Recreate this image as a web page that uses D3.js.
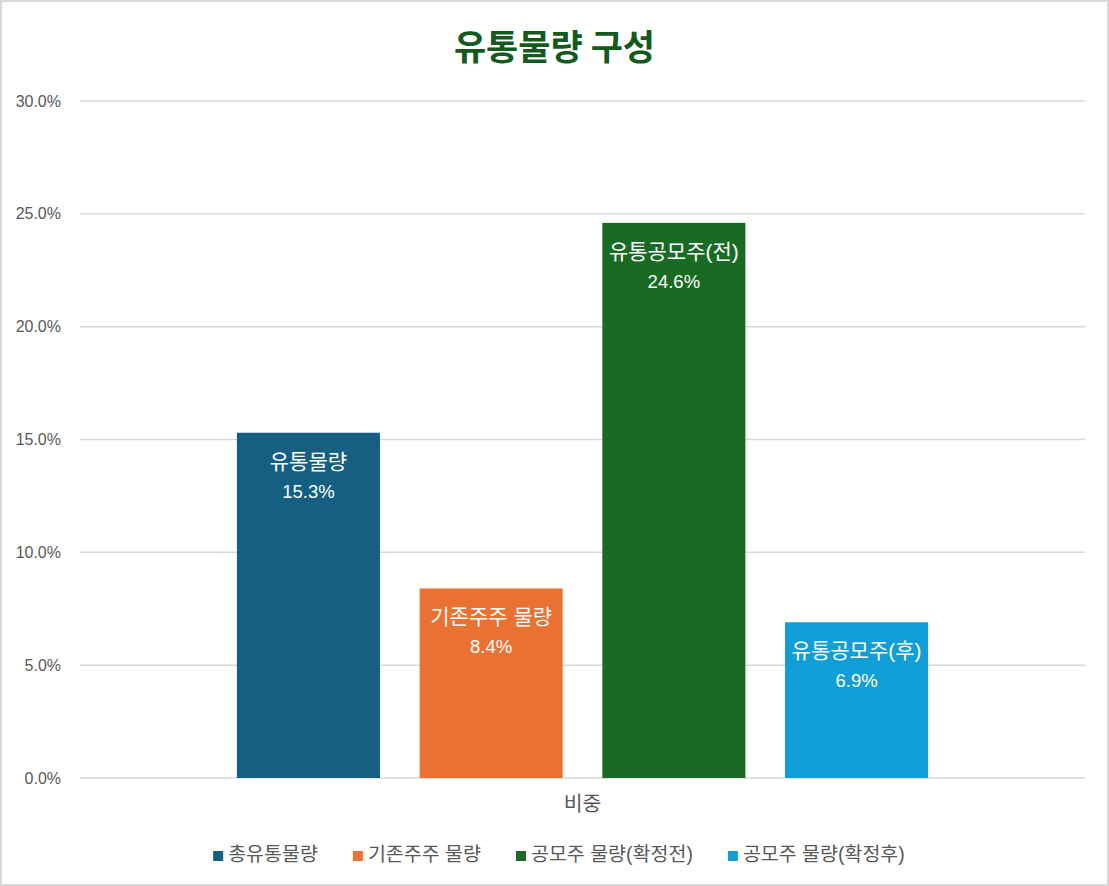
<!DOCTYPE html>
<html><head><meta charset="utf-8">
<script src="https://cdn.jsdelivr.net/npm/d3@7"></script>
<style>
html,body{margin:0;padding:0;background:#fff;}
text{font-family:"Liberation Sans","Noto Sans CJK KR",sans-serif;}
</style></head>
<body>
<svg id="c" width="1109" height="886"></svg>
<script>
const title = "유통물량 구성";
const category = "비중";
const series = ["총유통물량","기존주주 물량","공모주 물량(확정전)","공모주 물량(확정후)"];
const values = [15.3, 8.4, 24.6, 6.9];
const barLabels = ["유통물량","기존주주 물량","유통공모주(전)","유통공모주(후)"];
const colors = ["#156082","#E97132","#196B24","#0F9ED5"];
const yTicks = [0,5,10,15,20,25,30];

const svg = d3.select("#c");
const W = 1109, H = 886;
svg.append("rect").attr("x",1).attr("y",1).attr("width",W-2).attr("height",H-2)
  .attr("fill","#fff").attr("stroke","#d9d9d9").attr("stroke-width",2);

const m = {left:80, right:1085, top:101, bottom:778};
const y = d3.scaleLinear().domain([0,30]).range([m.bottom, m.top]);
const x0 = d3.scaleBand().domain([category]).range([m.left, m.right]).paddingInner(0).paddingOuter(0.227);
const x1 = d3.scaleBand().domain(series).range([0, x0.bandwidth()]).paddingInner(0.217).paddingOuter(0);

svg.append("text").attr("x", W/2).attr("y", 60).attr("text-anchor","middle")
  .attr("font-size", 35).attr("font-weight","bold").attr("fill","#145A1E")
  .style("font-family","'Noto Sans CJK KR',sans-serif").text(title);

// gridlines
const grid = svg.append("g");
grid.selectAll("line").data(yTicks).join("line")
  .attr("x1", m.left).attr("x2", m.right)
  .attr("y1", d=>y(d)).attr("y2", d=>y(d))
  .attr("stroke","#d9d9d9").attr("stroke-width",1.5);

// y axis
const yAxis = d3.axisLeft(y).tickValues(yTicks).tickSize(0).tickPadding(0)
  .tickFormat(d=>d.toFixed(1)+"%");
const ga = svg.append("g").attr("transform",`translate(${m.left-19},0)`).call(yAxis);
ga.select(".domain").remove();
ga.selectAll("text").attr("font-size",16).attr("fill","#595959")
  .style("font-family","'Liberation Sans',sans-serif");

// bars
const g = svg.append("g").attr("transform",`translate(${x0(category)},0)`);
g.selectAll("rect").data(values).join("rect")
  .attr("x",(d,i)=>x1(series[i])).attr("width",x1.bandwidth())
  .attr("y",d=>y(d)).attr("height",d=>y(0)-y(d))
  .attr("fill",(d,i)=>colors[i]);

// labels
const lab = g.selectAll("g.lab").data(values).join("g").attr("class","lab");
lab.append("text")
  .attr("x",(d,i)=>x1(series[i])+x1.bandwidth()/2)
  .attr("y",d=>y(d)+36).attr("text-anchor","middle")
  .attr("font-size",21).attr("fill","#fff")
  .text((d,i)=>barLabels[i]);
lab.append("text")
  .attr("x",(d,i)=>x1(series[i])+x1.bandwidth()/2)
  .attr("y",d=>y(d)+65).attr("text-anchor","middle")
  .attr("font-size",18.5).attr("fill","#fff")
  .text(d=>d.toFixed(1)+"%");

// x category label
svg.append("text").attr("x", x0(category)+x0.bandwidth()/2).attr("y", 811)
  .attr("text-anchor","middle").attr("font-size",20.5).attr("fill","#595959")
  .text(category);

// legend
const leg = svg.append("g");
const items = leg.selectAll("g").data(series).join("g");
items.append("rect").attr("width",10).attr("height",10).attr("y",-10)
  .attr("fill",(d,i)=>colors[i]);
items.append("text").attr("x",15).attr("y",0).attr("font-size",19.5).attr("fill","#595959").text(d=>d);
let xs=[], cur=0; const gap=35;
items.each(function(d,i){
  const w = 15 + this.querySelector("text").getComputedTextLength();
  xs.push(cur); cur += w + gap;
});
const total = cur - gap;
const startX = 559 - total/2;
items.attr("transform",(d,i)=>`translate(${startX+xs[i]},861)`);
</script>
</body></html>
